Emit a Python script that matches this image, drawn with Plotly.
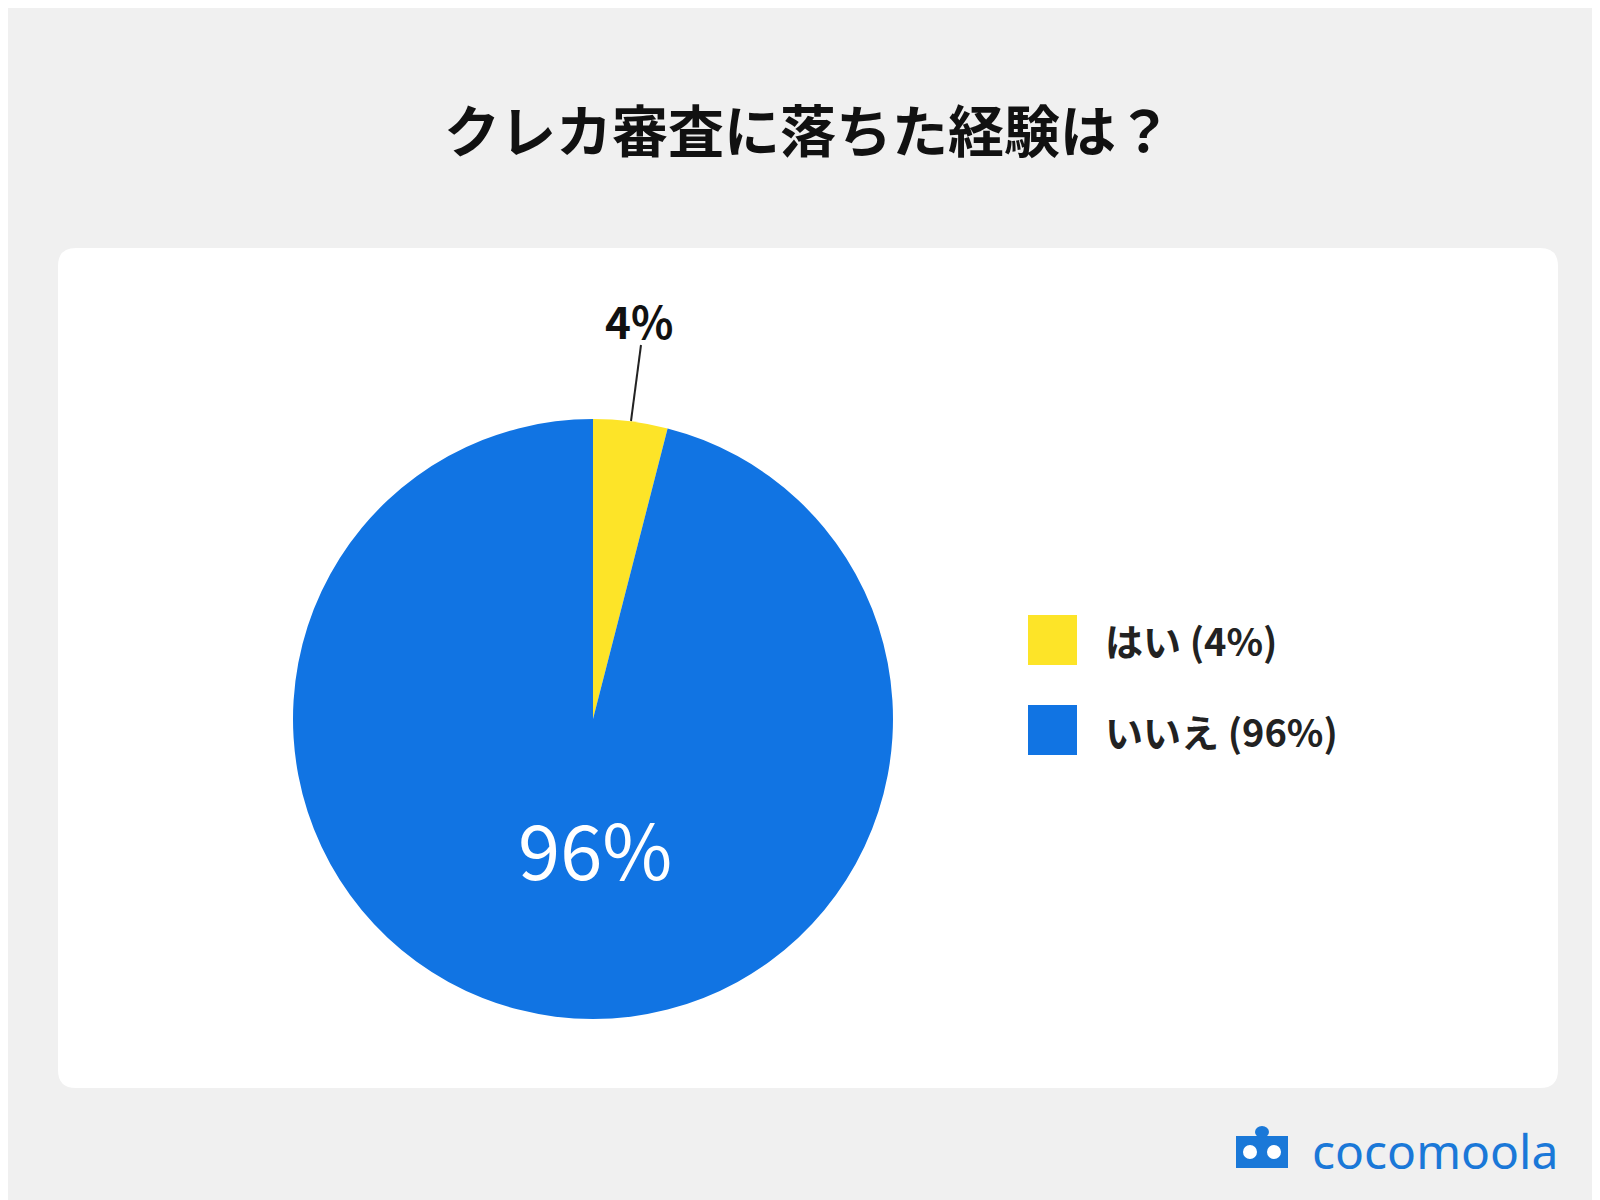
import plotly.graph_objects as go

labels = ["はい", "いいえ"]
values = [4, 96]
colors = ["#FDE428", "#1174E3"]
title = "クレカ審査に落ちた経験は？"

W, H = 1600, 1200
def px(x): return x / W
def py(y): return 1 - y / H

fig = go.Figure(go.Pie(
    labels=labels, values=values, sort=False, direction="clockwise",
    marker=dict(colors=colors, line=dict(width=0)), textinfo="none",
    hoverinfo="label+percent", showlegend=False,
    domain=dict(x=[px(285), px(885)], y=[py(1011), py(411)]),
))

shapes = []
# white rounded panel
x0, x1, y0, y1, r = px(50), px(1550), py(1080), py(240), 18
rx, ry = r / W, r / H
shapes.append(dict(type="path", xref="paper", yref="paper", layer="below",
    path=f"M {x0+rx},{y1} L {x1-rx},{y1} Q {x1},{y1} {x1},{y1-ry} L {x1},{y0+ry} Q {x1},{y0} {x1-rx},{y0} "
         f"L {x0+rx},{y0} Q {x0},{y0} {x0},{y0+ry} L {x0},{y1-ry} Q {x0},{y1} {x0+rx},{y1} Z",
    fillcolor="white", line=dict(width=0)))
# leader line
shapes.append(dict(type="line", xref="paper", yref="paper", x0=px(633), y0=py(337), x1=px(623), y1=py(413),
                   line=dict(color="#222", width=2)))

def ann(text, x, y, size, color, xanchor="center", family=None):
    f = dict(size=size, color=color)
    if family:
        f["family"] = family
    return dict(text=text, x=px(x), y=py(y), xanchor=xanchor, yanchor="middle",
                showarrow=False, font=f)

annotations = [
    ann(f"<b>{title}</b>", 800, 120, 56, "#111"),
    ann(f"<b>{values[0]}%</b>", 631, 312, 44, "#111"),
    ann(f"{values[1]}%", 587, 839, 76, "white"),
]
for i, (lab, val, col) in enumerate(zip(labels, values, colors)):
    yc = 632 + i * 90
    shapes.append(dict(type="rect", xref="paper", yref="paper", x0=px(1020), x1=px(1069),
                       y0=py(yc + 25), y1=py(yc - 25), fillcolor=col, line=dict(width=0)))
    annotations.append(ann(f"<b>{lab} ({val}%)</b>", 1095, yc, 38, "#222", xanchor="left"))

# logo
annotations.append(ann("cocomoola", 1552, 1142, 48, "#1A78D8", xanchor="right", family="Noto Sans"))
shapes.append(dict(type="rect", xref="paper", yref="paper", x0=px(1228), x1=px(1280), y0=py(1160), y1=py(1128),
                   fillcolor="#1A78D8", line=dict(width=0)))
for cx in (1242, 1266):
    shapes.append(dict(type="circle", xref="paper", yref="paper", x0=px(cx - 8), x1=px(cx + 8),
                       y0=py(1152), y1=py(1136), fillcolor="white", line=dict(color="#1A78D8", width=2)))
shapes.append(dict(type="circle", xref="paper", yref="paper", x0=px(1247), x1=px(1261), y0=py(1130), y1=py(1118),
                   fillcolor="#1A78D8", line=dict(width=0)))

fig.update_layout(width=W, height=H, margin=dict(l=0, r=0, t=0, b=0),
                  paper_bgcolor="#F0F0F0", plot_bgcolor="#F0F0F0",
                  font=dict(family="Noto Sans CJK JP"), shapes=shapes, annotations=annotations)
fig.write_html("out.html")
